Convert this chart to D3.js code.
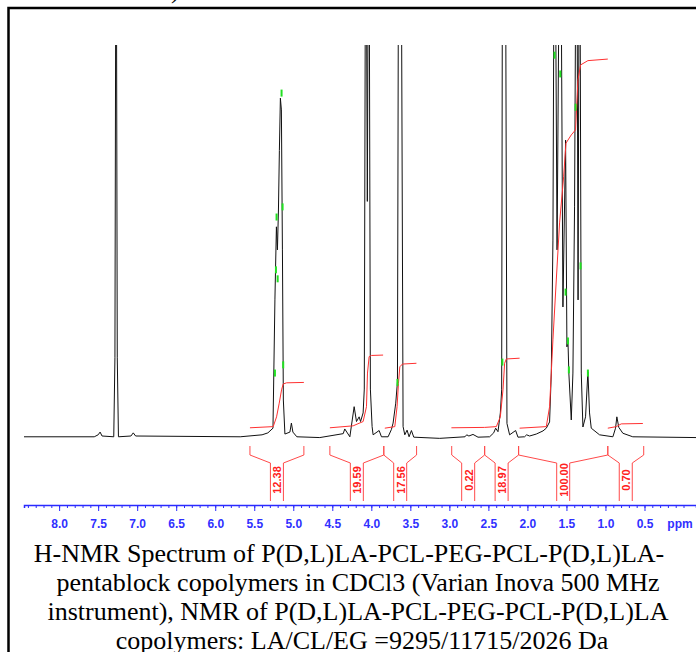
<!DOCTYPE html>
<head>
    <meta charset="utf-8">
    <script src="https://d3js.org/d3.v7.min.js"></script>
    <style>
        body { margin:0; background:#fff; }
        svg { display:block; }
        .axis path, .axis line { stroke:#2a2aff; }
        .axis text { fill:#3030ff; font-family:"Liberation Sans", Arial, sans-serif; font-size:12px; font-weight:bold; }
        .caption { font-family:"Liberation Serif", "Times New Roman", serif; font-size:26px; fill:#000; }
    </style>
</head>
<body>
    <svg id="chart" width="696" height="652"></svg>

    <script>
        // spectrum: [ppm, intensity] (100 = top of plot, tall peaks are clipped)
        var spectrum = [
            [8.45,-0.2],[7.55,-0.2],[7.5,0.3],[7.475,1.0],[7.45,0],
            [7.3,-0.2],[7.285,20],[7.27,160],[7.255,20],[7.24,-0.2],
            [7.08,0],[7.05,0.8],[7.02,0],
            [5.68,-0.2],[5.4,0.3],[5.325,0.8],[5.26,2],[5.235,35],[5.216,53.5],[5.203,47.6],[5.19,57.8],
            [5.178,73],[5.165,86.4],[5.152,83.4],[5.139,47.6],[5.127,9.2],[5.107,0.5],[5.043,1.0],[5.024,3.3],
            [5.005,1.0],[4.954,-0.2],
            [4.66,-0.4],[4.36,0.6],[4.34,1.8],[4.275,-0.2],[4.22,7.5],[4.19,3.7],[4.156,4.9],[4.138,3.7],
            [4.105,5.9],[4.09,12],[4.071,160],[4.051,60],[4.032,160],[4.012,12],[3.99,2.4],[3.977,0.3],
            [3.90,1.4],[3.87,-0.2],[3.785,-0.2],[3.742,1.7],[3.721,3.3],[3.687,8.4],[3.665,13.9],[3.648,160],
            [3.622,160],[3.593,2.4],[3.571,0.3],[3.542,1.5],[3.516,-0.2],[3.486,1.4],[3.456,-0.3],
            [3.124,-0.6],[2.80,-0.2],[2.778,0.3],[2.75,0],[2.697,0.4],[2.633,-0.3],[2.484,-0.2],[2.432,0.8],
            [2.407,2.0],[2.377,1.1],[2.347,5.9],[2.33,11.8],[2.317,160],[2.301,100],[2.285,160],[2.262,3.2],
            [2.228,0.3],[2.151,1.4],[2.121,-0.3],[2.036,-0.2],[2.01,0.3],[1.972,0],[1.886,0.5],[1.80,1.3],
            [1.758,2.0],[1.716,3.6],[1.694,16.1],[1.673,50.1],[1.652,160],[1.62,47.6],[1.579,160],[1.545,33],
            [1.511,75.7],[1.494,22.8],[1.481,24.6],[1.469,16.1],[1.438,4.1],[1.417,16.1],[1.396,58.6],[1.37,160],
            [1.351,34.8],[1.332,160],[1.31,16.1],[1.289,2.3],[1.255,4.9],[1.225,16.4],[1.204,5.9],[1.182,2.0],
            [1.076,0.3],[0.905,-0.2],[0.871,2.0],[0.854,4.9],[0.829,2.2],[0.777,0.7],[0.65,-0.2],[-0.16,-0.4]
        ];

        // integral curves, same units
        var integral1 = [[5.555,2.1],[5.257,2.4],[5.214,4.9],[5.18,8.4],[5.15,11.8],[5.129,13.3],[5.086,13.6],[4.864,13.7]];
        var integral2 = [[4.531,2.1],[4.233,2.6],[4.105,3.7],[4.062,7.5],[4.049,16.1],[4.028,20.3],[3.998,20.6],[3.849,20.7]];
        var integral3 = [[3.827,2.0],[3.699,2.4],[3.67,7.5],[3.652,13.5],[3.635,17.7],[3.601,18.4],[3.422,18.6]];
        var integral4 = [[2.974,2.1],[2.548,2.2]];
        var integral5 = [[2.548,2.2],[2.398,2.4],[2.347,4.9],[2.313,11.8],[2.292,18.6],[2.27,19.7],[2.10,19.9]];
        var integral6 = [[2.10,2.0],[1.758,2.4],[1.716,7.5],[1.673,24.6],[1.63,39.9],[1.588,54.5],[1.536,66.3],
                         [1.506,74.9],[1.438,77],[1.383,78.3],[1.353,91],[1.319,94.9],[1.225,96],[0.97,96.4]];
        var integral7 = [[0.97,2.0],[0.861,2.4],[0.798,3.1],[0.521,3.2]];

        // integration regions (ppm from, ppm to) and their values
        var regionFrom = [5.555, 4.531, 3.84, 2.97, 2.548, 2.113, 0.97];
        var regionTo   = [4.864, 3.84, 3.42, 2.548, 2.113, 0.97, 0.51];
        var regionValues = ["12.38", "19.59", "17.56", "0.22", "18.97", "100.00", "0.70"];

        // peak picking marks [ppm, intensity]
        var peakMarks = [
            [5.15,87.7],[5.214,56.0],[5.137,58.6],[5.222,42.5],[5.2,40.2],[5.129,18.2],[5.235,16.1],
            [3.665,13.7],[2.321,18.9],[1.652,97.4],[1.579,92.6],[1.383,84.1],[1.319,43.5],[1.511,36.8],
            [1.481,24.3],[1.469,16.9],[1.225,16.1]
        ];

        var majorTicks = [8.0, 7.5, 7.0, 6.5, 6.0, 5.5, 5.0, 4.5, 4.0, 3.5, 3.0, 2.5, 2.0, 1.5, 1.0, 0.5];
        var minorTicks = d3.range(84, -1, -1).map(function(d) { return d / 10; });

        var captionLines = [
            "H-NMR Spectrum of P(D,L)LA-PCL-PEG-PCL-P(D,L)LA-",
            "pentablock copolymers in CDCl3 (Varian Inova 500 MHz",
            "instrument), NMR of P(D,L)LA-PCL-PEG-PCL-P(D,L)LA",
            "copolymers: LA/CL/EG =9295/11715/2026 Da"
        ];
        var captionCenters = [349, 358, 358, 362];

        var svg = d3.select("#chart");

        var x = d3.scaleLinear().domain([8.45, -0.16]).range([24, 696]);
        var y = d3.scaleLinear().domain([0, 100]).range([436, 45]);

        // frame
        svg.append("rect")
            .attr("x", 8.5).attr("y", 8)
            .attr("width", 760).attr("height", 700)
            .attr("fill", "none").attr("stroke", "#000").attr("stroke-width", 2.5);

        // leftover of the text above the frame
        svg.append("text").attr("class", "caption")
            .attr("x", 171).attr("y", -2).text(")");

        svg.append("clipPath").attr("id", "plotclip")
            .append("rect").attr("x", 0).attr("y", 45).attr("width", 696).attr("height", 420);

        var line = d3.line()
            .x(function(d) { return x(d[0]); })
            .y(function(d) { return y(d[1]); });

        var plot = svg.append("g").attr("clip-path", "url(#plotclip)");

        plot.append("path")
            .datum(spectrum)
            .attr("d", line)
            .attr("fill", "none")
            .attr("stroke", "#111")
            .attr("stroke-width", 1)
            .attr("stroke-linejoin", "round");

        // integral curves
        var integrals = [integral1, integral2, integral3, integral4, integral5, integral6, integral7];
        plot.selectAll(".integral")
            .data(integrals)
            .enter().append("path")
            .attr("class", "integral")
            .attr("d", line)
            .attr("fill", "none")
            .attr("stroke", "#ff3030")
            .attr("stroke-width", 1);

        // green peak marks
        plot.selectAll(".mark")
            .data(peakMarks)
            .enter().append("rect")
            .attr("class", "mark")
            .attr("x", function(d) { return x(d[0]) - 1; })
            .attr("y", function(d) { return y(d[1]) - 3.5; })
            .attr("width", 2)
            .attr("height", 7)
            .attr("fill", "#22e022");

        // integral brackets + values
        var brackets = svg.append("g")
            .attr("fill", "none")
            .attr("stroke", "#ff4a4a")
            .attr("stroke-width", 1);

        regionFrom.forEach(function(p0, i) {
            var x0 = x(p0), x1 = x(regionTo[i]);
            var cx = (x0 + x1) / 2;
            var half = 6.5;
            brackets.append("path")
                .attr("d", "M" + x0 + ",446 L" + x0 + ",455 L" + (cx - half) + ",463 L" + (cx - half) + ",501");
            brackets.append("path")
                .attr("d", "M" + x1 + ",446 L" + x1 + ",455 L" + (cx + half) + ",463 L" + (cx + half) + ",501");
            svg.append("text")
                .attr("transform", "translate(" + (cx + 0.5) + ",480) rotate(-90)")
                .attr("text-anchor", "middle")
                .attr("dominant-baseline", "central")
                .attr("fill", "#ff2020")
                .style("font-family", "'Liberation Sans', Arial, sans-serif")
                .style("font-size", "11px")
                .style("font-weight", "bold")
                .text(regionValues[i]);
        });

        // axis
        var axisY = 505;
        svg.append("g").attr("class", "axis")
            .attr("transform", "translate(0," + axisY + ")")
            .call(d3.axisBottom(x).tickValues(minorTicks).tickSize(3).tickFormat(""))
            .select(".domain").attr("stroke-width", 1.5);

        svg.append("g").attr("class", "axis")
            .attr("transform", "translate(0," + axisY + ")")
            .call(d3.axisBottom(x).tickValues(majorTicks).tickSize(6).tickPadding(8).tickFormat(d3.format(".1f")))
            .select(".domain").remove();

        svg.append("text")
            .attr("x", 680).attr("y", axisY + 22.5)
            .attr("text-anchor", "middle")
            .attr("fill", "#3030ff")
            .style("font-family", "'Liberation Sans', Arial, sans-serif")
            .style("font-size", "12px")
            .style("font-weight", "bold")
            .text("ppm");

        // caption
        svg.selectAll(".caption-line")
            .data(captionLines)
            .enter().append("text")
            .attr("class", "caption caption-line")
            .attr("x", function(d, i) { return captionCenters[i]; })
            .attr("y", function(d, i) { return 562 + i * 29; })
            .attr("text-anchor", "middle")
            .text(function(d) { return d; });
    </script>
</body>
